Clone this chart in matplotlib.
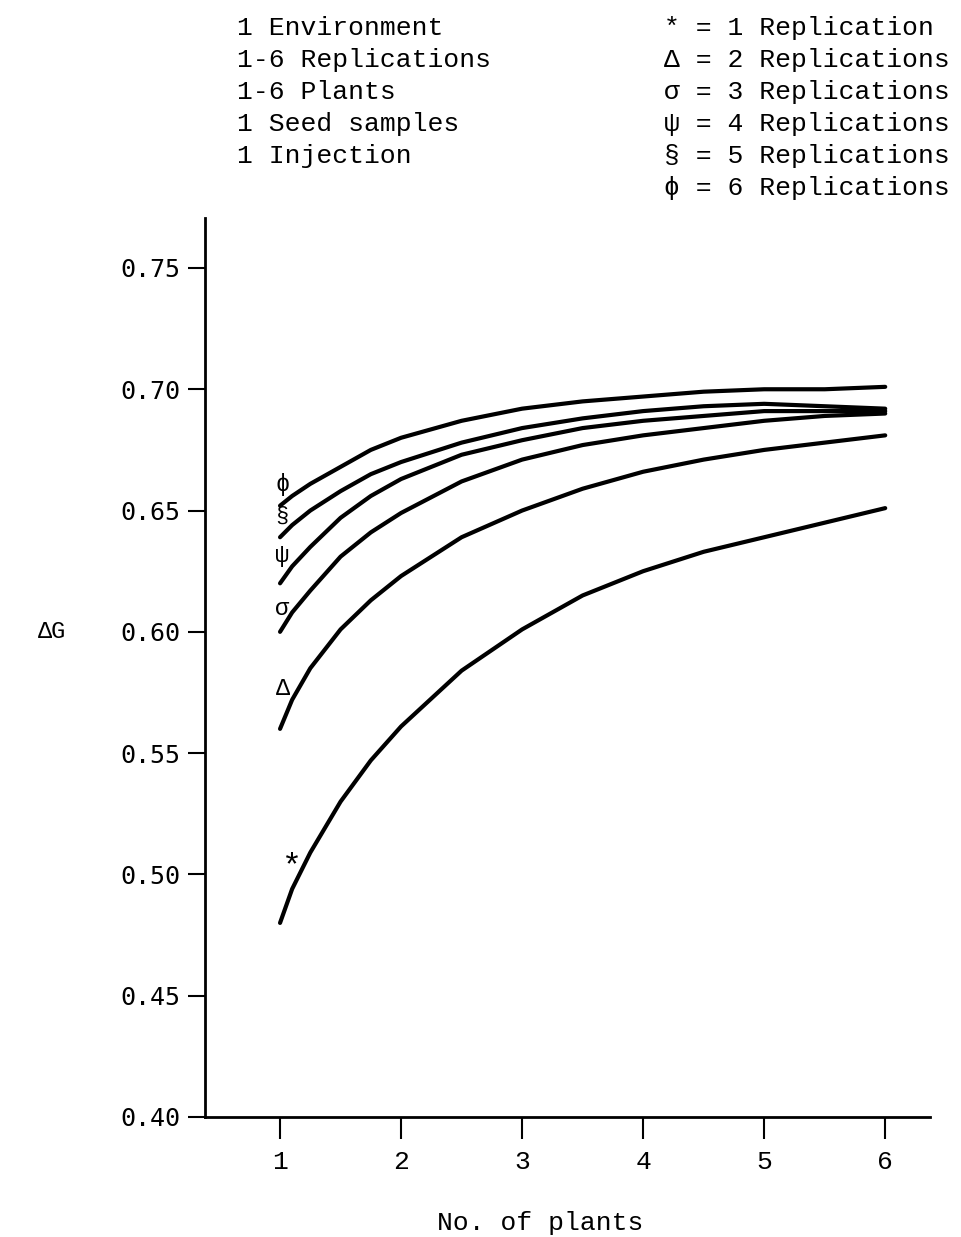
import numpy as np
import matplotlib.pyplot as plt

# values
plants = [1, 1.1, 1.25, 1.5, 1.75, 2, 2.5, 3, 3.5, 4, 4.5, 5, 5.5, 6]
rep6 = [0.652, 0.656, 0.661, 0.668, 0.675, 0.680, 0.687, 0.692, 0.695, 0.697, 0.699, 0.700, 0.700, 0.701]
rep5 = [0.639, 0.644, 0.650, 0.658, 0.665, 0.670, 0.678, 0.684, 0.688, 0.691, 0.693, 0.694, 0.693, 0.692]
rep4 = [0.620, 0.627, 0.635, 0.647, 0.656, 0.663, 0.673, 0.679, 0.684, 0.687, 0.689, 0.691, 0.691, 0.691]
rep3 = [0.600, 0.608, 0.617, 0.631, 0.641, 0.649, 0.662, 0.671, 0.677, 0.681, 0.684, 0.687, 0.689, 0.690]
rep2 = [0.560, 0.572, 0.585, 0.601, 0.613, 0.623, 0.639, 0.650, 0.659, 0.666, 0.671, 0.675, 0.678, 0.681]
rep1 = [0.480, 0.494, 0.509, 0.530, 0.547, 0.561, 0.584, 0.601, 0.615, 0.625, 0.633, 0.639, 0.645, 0.651]

symbols = ['*', 'Δ', 'σ', 'ψ', '§', 'ϕ']
series = [rep1, rep2, rep3, rep4, rep5, rep6]
label_pos = [(1.1, 0.503), (1.02, 0.5765), (1.02, 0.6095), (1.02, 0.6315), (1.02, 0.6475), (1.02, 0.6607)]
label_size = [24, 17, 17, 17, 16, 17]

left_text = ['1 Environment', '1-6 Replications', '1-6 Plants', '1 Seed samples', '1 Injection']
right_text = ['* = 1 Replication', 'Δ = 2 Replications', 'σ = 3 Replications',
              'ψ = 4 Replications', '§ = 5 Replications', 'ϕ = 6 Replications']

xticks = [1, 2, 3, 4, 5, 6]
yticks = [0.40, 0.45, 0.50, 0.55, 0.60, 0.65, 0.70, 0.75]

mono = ['Liberation Mono', 'DejaVu Sans Mono']
W, H = 962, 1237

fig = plt.figure(figsize=(W/100, H/100), dpi=100)
ax = fig.add_axes([205/W, 1-1117/H, (930-205)/W, (1117-218)/H])

for s in series:
    ax.plot(plants, s, color='black', lw=3, solid_capstyle='round', solid_joinstyle='round')

for sym, (x, y), fs in zip(symbols, label_pos, label_size):
    ax.text(x, y, sym, ha='center', va='center', fontsize=fs, family=mono)

ax.set_xlim(0.38, 6.37)
ax.set_ylim(0.40, 0.7706)
ax.set_xticks(xticks)
ax.set_xticklabels([str(t) for t in xticks], family=mono, fontsize=19)
ax.set_yticks(yticks)
ax.set_yticklabels(['%.2f' % t for t in yticks], family=['DejaVu Sans Mono'], fontsize=18)
ax.tick_params(axis='y', length=12, width=1.5, pad=6)
ax.tick_params(axis='x', length=16, width=1.5, pad=8)
for side in ['top', 'right']:
    ax.spines[side].set_visible(False)
for side in ['left', 'bottom']:
    ax.spines[side].set_linewidth(2)

fig.text(540/W, 1-1223/H, 'No. of plants', ha='center', va='center', fontsize=19, family=mono)
fig.text(38/W, 1-632/H, 'ΔG', ha='left', va='center', fontsize=17, family=mono)

for i, t in enumerate(left_text):
    fig.text(237/W, 1-(28+32*i)/H, t, ha='left', va='center', fontsize=19, family=mono)
for i, t in enumerate(right_text):
    fig.text(664/W, 1-(28+32*i)/H, t, ha='left', va='center', fontsize=19, family=mono)

fig.savefig('out.png', dpi=100)
